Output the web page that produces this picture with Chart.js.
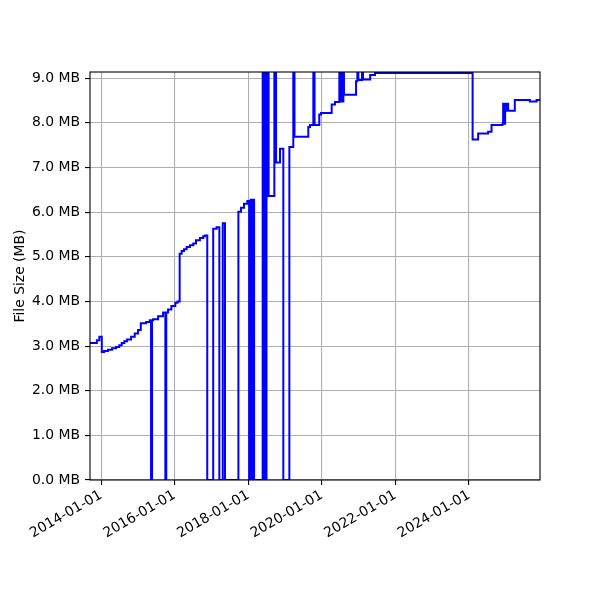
<!DOCTYPE html>
<html>
<head>
<meta charset="utf-8">
<script src="https://cdn.jsdelivr.net/npm/chart.js@4"></script>
<style>
  html, body { margin: 0; padding: 0; background: #fff; }
</style>
</head>
<body>
<canvas id="sizeChart" width="600" height="600"></canvas>
<script>
// file size history, one value per change (MB), holds until the next date
const dates = [
  '2013-09-13', '2013-11-20', '2013-12-15', '2014-01-08', '2014-01-31', '2014-03-11',
  '2014-04-20', '2014-05-30', '2014-07-01', '2014-07-25', '2014-08-20', '2014-09-16',
  '2014-10-26', '2014-12-01', '2015-01-03', '2015-01-30', '2015-03-24', '2015-04-29',
  '2015-05-12', '2015-05-22', '2015-06-01', '2015-07-21', '2015-09-08', '2015-10-01',
  '2015-10-10', '2015-10-28', '2015-11-30', '2016-01-08', '2016-01-30', '2016-02-20',
  '2016-03-11', '2016-04-03', '2016-04-29', '2016-06-01', '2016-07-04', '2016-07-31',
  '2016-09-08', '2016-10-11', '2016-10-28', '2016-11-20', '2017-01-18', '2017-02-21',
  '2017-03-20', '2017-04-23', '2017-05-15', '2017-09-25', '2017-10-21', '2017-11-20',
  '2017-12-23', '2018-01-10', '2018-01-25', '2018-02-05', '2018-02-15', '2018-02-28',
  '2018-05-24', '2018-06-02', '2018-06-12', '2018-06-22', '2018-07-01', '2018-07-08',
  '2018-07-15', '2018-07-22', '2018-09-17', '2018-10-04', '2018-11-12', '2018-12-15',
  '2019-02-13', '2019-03-24', '2019-04-05', '2019-08-20', '2019-09-06', '2019-10-09',
  '2019-10-21', '2019-12-07', '2019-12-24', '2020-04-08', '2020-05-11', '2020-06-23',
  '2020-07-03', '2020-07-13', '2020-07-23', '2020-08-02', '2020-08-08', '2020-12-06',
  '2020-12-19', '2020-12-29', '2021-02-03', '2021-02-13', '2021-04-25', '2021-06-12',
  '2024-02-06', '2024-04-01', '2024-07-09', '2024-08-12', '2024-11-29', '2024-12-05',
  '2024-12-15', '2024-12-25', '2025-01-05', '2025-01-12', '2025-01-24', '2025-03-31',
  '2025-08-27', '2025-11-02', '2025-12-06'
];
const sizesMB = [
  3.07, 3.13, 3.21, 2.87, 2.89, 2.92,
  2.95, 2.98, 3.02, 3.07, 3.11, 3.15,
  3.21, 3.28, 3.36, 3.51, 3.54, 3.58,
  0, 3.58, 3.60, 3.67, 3.75, 0,
  3.75, 3.82, 3.90, 3.97, 4.00, 5.07,
  5.13, 5.17, 5.22, 5.26, 5.30, 5.37,
  5.42, 5.46, 5.48, 0, 5.63, 5.66,
  0, 5.75, 0, 6.01, 6.10, 6.19,
  6.25, 0, 6.28, 0, 6.28, 0,
  9.6, 0, 9.6, 0, 9.6, 6.36,
  9.6, 6.36, 9.6, 7.11, 7.42, 0,
  7.46, 9.6, 7.69, 7.91, 7.95, 9.6,
  7.95, 8.19, 8.22, 8.41, 8.47, 9.6,
  8.48, 9.6, 8.48, 9.6, 8.63, 8.93,
  9.6, 8.96, 9.6, 8.97, 9.07, 9.12,
  7.63, 7.76, 7.80, 7.95, 7.98, 8.43,
  7.98, 8.43, 8.27, 8.43, 8.27, 8.51,
  8.48, 8.51, 8.51
];
const xTickDates = ['2014-01-01', '2016-01-01', '2018-01-01', '2020-01-01', '2022-01-01', '2024-01-01'];
const yTicks = [0, 1, 2, 3, 4, 5, 6, 7, 8, 9];
const xMin = '2013-09-13';
const xMax = '2025-12-06';
const yMax = 9.14;

Chart.defaults.font.family = 'DejaVu Sans';
Chart.defaults.font.size = 13.9;
Chart.defaults.color = '#000';

function fmtDate(ms) {
  const d = new Date(ms);
  const mm = String(d.getUTCMonth() + 1).padStart(2, '0');
  const dd = String(d.getUTCDate()).padStart(2, '0');
  return d.getUTCFullYear() + '-' + mm + '-' + dd;
}

// axes frame on top of the line, like matplotlib spines
const framePlugin = {
  id: 'frame',
  afterDatasetsDraw(chart) {
    const a = chart.chartArea;
    const c = chart.ctx;
    c.save();
    c.strokeStyle = '#000';
    c.lineWidth = 1.1;
    c.strokeRect(a.left, a.top, a.right - a.left, a.bottom - a.top);
    c.restore();
  }
};

const points = dates.map((d, i) => ({ x: Date.parse(d), y: sizesMB[i] }));

new Chart(document.getElementById('sizeChart'), {
  type: 'line',
  data: {
    datasets: [{
      data: points,
      borderColor: '#0000ff',
      borderWidth: 2,
      pointRadius: 0,
      stepped: true,
      fill: false,
      clip: 0
    }]
  },
  options: {
    responsive: false,
    animation: false,
    devicePixelRatio: 1,
    layout: { padding: { top: 72, right: 60, left: 0, bottom: 0 } },
    plugins: {
      legend: { display: false },
      tooltip: { enabled: false }
    },
    scales: {
      x: {
        type: 'linear',
        min: Date.parse(xMin),
        max: Date.parse(xMax),
        afterBuildTicks: scale => {
          scale.ticks = xTickDates.map(d => ({ value: Date.parse(d) }));
        },
        afterFit: scale => { scale.height = 120; },
        grid: { color: '#b0b0b0', lineWidth: 1.1, tickColor: '#000', tickLength: 5, tickWidth: 1.1 },
        border: { display: false },
        ticks: {
          autoSkip: false,
          maxRotation: 30,
          minRotation: 30,
          padding: 2,
          callback: v => fmtDate(v)
        }
      },
      y: {
        min: 0,
        max: yMax,
        afterBuildTicks: scale => {
          scale.ticks = yTicks.map(v => ({ value: v }));
        },
        afterFit: scale => { scale.width = 90; },
        grid: { color: '#b0b0b0', lineWidth: 1.1, tickColor: '#000', tickLength: 5, tickWidth: 1.1 },
        border: { display: false },
        ticks: {
          padding: 5,
          callback: v => v.toFixed(1) + ' MB'
        },
        title: {
          display: true,
          text: 'File Size (MB)',
          padding: { top: 12, bottom: 0 }
        }
      }
    }
  },
  plugins: [framePlugin]
});
</script>
</body>
</html>
